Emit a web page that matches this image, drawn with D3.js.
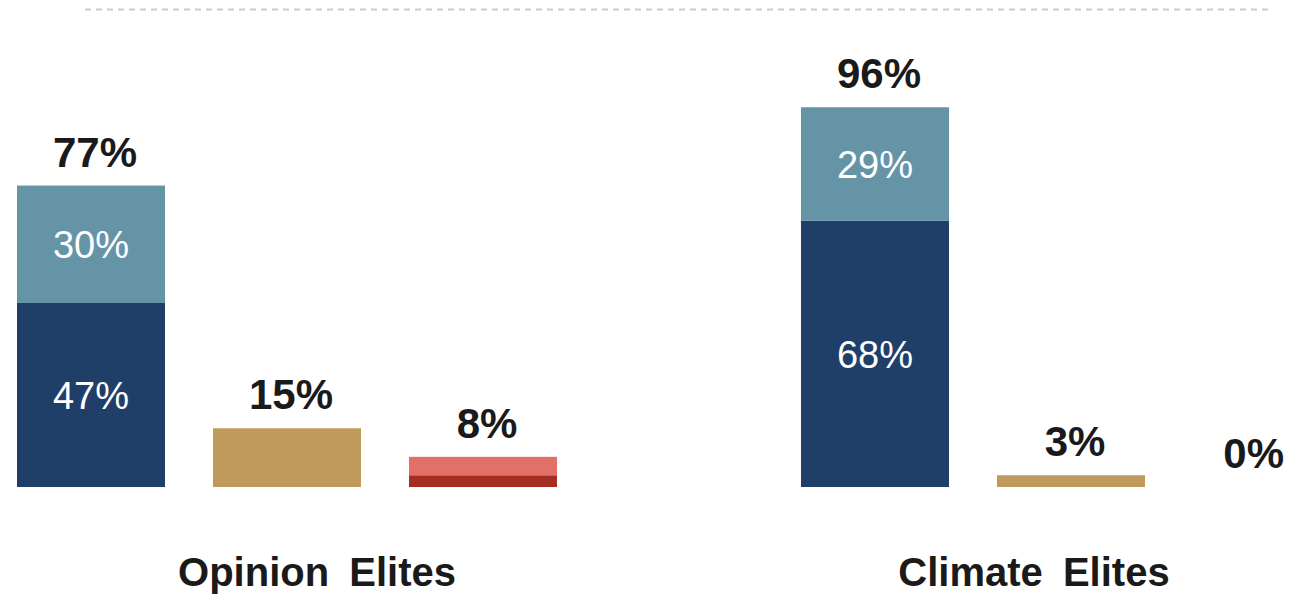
<!DOCTYPE html>
<html>
<head>
<meta charset="utf-8">
<script src="https://cdn.jsdelivr.net/npm/d3@7"></script>
<style>
  html, body { margin: 0; padding: 0; background: #ffffff; }
  svg { display: block; font-family: "Liberation Sans", Arial, sans-serif; }
</style>
</head>
<body>
<svg id="chart" width="1294" height="599"></svg>
<script>
// ---- data ----
const groups = ["Opinion Elites", "Climate Elites"];
const bars = ["a", "b", "c"];
const strongValues   = [47, 68];   // bar a, navy segment
const somewhatValues = [30, 29];   // bar a, steel segment
const tanValues      = [15, 3];    // bar b
const darkRedValues  = [3, 0];     // bar c, bottom segment
const lightRedValues = [4.7, 0];   // bar c, top segment
const totalLabels = [["77%", "15%", "8%"], ["96%", "3%", "0%"]];
const innerStrongLabels   = ["47%", "68%"];
const innerSomewhatLabels = ["30%", "29%"];

// ---- layout ----
const W = 1294, H = 599;
const svg = d3.select("#chart");
const baseY = 487;
const y = d3.scaleLinear().domain([0, 100]).range([baseY, baseY - 391.5]);
const x0 = d3.scaleBand().domain(groups).range([17, 1341]).paddingInner(0.3112).paddingOuter(0);
const x1 = d3.scaleBand().domain(bars).range([0, x0.bandwidth()]).paddingInner(0.2449).paddingOuter(0);

const colors = {
  strong: "#1f3e68",
  somewhat: "#6594a7",
  tan: "#bf9a5a",
  darkRed: "#a42e22",
  lightRed: "#e07068"
};

// dashed top line
svg.append("line")
  .attr("x1", 85).attr("x2", 1272)
  .attr("y1", 9.5).attr("y2", 9.5)
  .attr("stroke", "#cccccc").attr("stroke-width", 2)
  .attr("stroke-dasharray", "6,5");

// build segments
const segments = [];
groups.forEach((g, i) => {
  segments.push({ g, bar: "a", y0: 0, y1: strongValues[i], color: colors.strong, label: innerStrongLabels[i] });
  segments.push({ g, bar: "a", y0: strongValues[i], y1: strongValues[i] + somewhatValues[i], color: colors.somewhat, label: innerSomewhatLabels[i] });
  segments.push({ g, bar: "b", y0: 0, y1: tanValues[i], color: colors.tan });
  segments.push({ g, bar: "c", y0: 0, y1: darkRedValues[i], color: colors.darkRed });
  segments.push({ g, bar: "c", y0: darkRedValues[i], y1: darkRedValues[i] + lightRedValues[i], color: colors.lightRed });
});

svg.append("g").selectAll("rect")
  .data(segments.filter(d => d.y1 > d.y0))
  .join("rect")
  .attr("x", d => x0(d.g) + x1(d.bar))
  .attr("width", x1.bandwidth())
  .attr("y", d => y(d.y1))
  .attr("height", d => y(d.y0) - y(d.y1))
  .attr("fill", d => d.color);

// inner labels
svg.append("g").selectAll("text")
  .data(segments.filter(d => d.label))
  .join("text")
  .attr("x", d => x0(d.g) + x1(d.bar) + x1.bandwidth() / 2)
  .attr("y", d => (y(d.y0) + y(d.y1)) / 2 + 14)
  .attr("text-anchor", "middle")
  .attr("fill", "#ffffff")
  .attr("font-size", 38)
  .text(d => d.label);

// total labels
const tops = groups.map((g, i) => [
  strongValues[i] + somewhatValues[i],
  tanValues[i],
  darkRedValues[i] + lightRedValues[i]
]);
const totals = [];
groups.forEach((g, i) => bars.forEach((b, j) => totals.push({ g, bar: b, v: tops[i][j], label: totalLabels[i][j] })));

svg.append("g").selectAll("text")
  .data(totals)
  .join("text")
  .attr("text-anchor", "middle")
  .attr("fill", "#1a1a1a")
  .attr("font-size", 42)
  .attr("font-weight", "bold")
  .attr("y", d => y(d.v) - 19)
  .text(d => d.label)
  .attr("x", function(d) {
    const cx = x0(d.g) + x1(d.bar) + x1.bandwidth() / 2 + 4;
    const half = this.getComputedTextLength() / 2;
    return Math.min(cx, W - 10 - half);
  });

// group labels
const labelShift = [30, -37];
svg.append("g").selectAll("text")
  .data(groups)
  .join("text")
  .attr("x", (d, i) => x0(d) + x0.bandwidth() / 2 + labelShift[i])
  .attr("y", 586)
  .attr("text-anchor", "middle")
  .attr("fill", "#1a1a1a")
  .attr("font-size", 40)
  .attr("font-weight", "bold")
  .style("word-spacing", "9px")
  .text(d => d);
</script>
</body>
</html>
